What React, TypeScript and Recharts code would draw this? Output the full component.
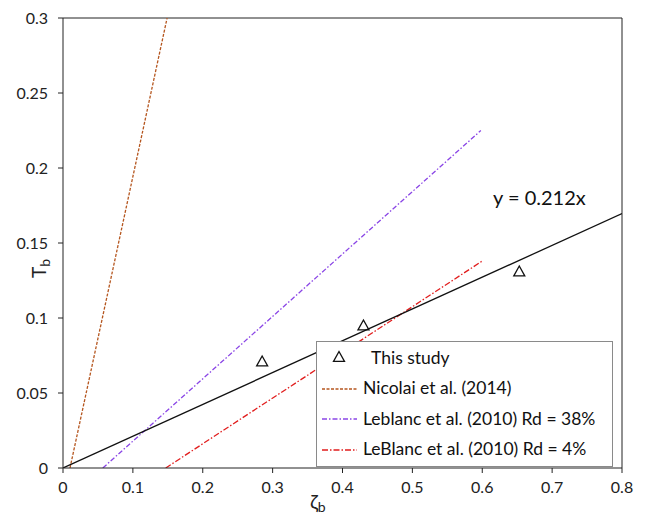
import {
  ComposedChart,
  Line,
  Scatter,
  XAxis,
  YAxis,
  ReferenceLine
} from "recharts";

// measured points
const studyZeta = [0.285, 0.43, 0.653];
const studyTb = [0.071, 0.095, 0.131];

// fitted line y = 0.212x
const fitZeta = [0, 0.8];
const fitTb = [0, 0.1696];

// literature curves
const nicolaiZeta = [0.01, 0.149];
const nicolaiTb = [0, 0.3];
const leblanc38Zeta = [0.057, 0.598];
const leblanc38Tb = [0, 0.225];
const leblanc4Zeta = [0.147, 0.6];
const leblanc4Tb = [0, 0.138];

const xTicks = [0, 0.1, 0.2, 0.3, 0.4, 0.5, 0.6, 0.7, 0.8];
const yTicks = [0, 0.05, 0.1, 0.15, 0.2, 0.25, 0.3];

const legendLabels = [
  "This study",
  "Nicolai et al. (2014)",
  "Leblanc et al. (2010) Rd = 38%",
  "LeBlanc et al. (2010) Rd = 4%"
];

const toPoints = (xs: number[], ys: number[]) => xs.map((x, i) => ({ x, y: ys[i] }));

const FONT = "Lato, 'Open Sans', sans-serif";

const Triangle = (props: any) => {
  const { cx, cy } = props;
  if (cx == null || cy == null) return null;
  const s = 5.5;
  return (
    <polygon
      points={`${cx},${cy - s} ${cx - s},${cy + s * 0.8} ${cx + s},${cy + s * 0.8}`}
      fill='none'
      stroke='#111'
      strokeWidth={1.3}
    />
  );
};

const legendStyles = [
  null,
  { stroke: "#b5561f", dash: "3 1.5" },
  { stroke: "#8a45e6", dash: "5 2 1.5 2" },
  { stroke: "#e11d1d", dash: "6 2 1.5 2" }
];

const LegendBox = () => (
  <div
    style={{
      position: "absolute",
      left: 316,
      top: 341,
      width: 297,
      height: 126,
      border: "1.5px solid #8a8a8a",
      background: "#fff",
      fontFamily: FONT,
      fontSize: 17.5,
      color: "#111",
      boxSizing: "border-box"
    }}
  >
    {legendLabels.map((label, i) => (
      <div key={label} style={{ display: "flex", alignItems: "center", height: 30.5 }}>
        <svg width={44} height={20} style={{ flexShrink: 0 }}>
          {i === 0 ? (
            <Triangle cx={22} cy={10} />
          ) : (
            <line
              x1={5}
              y1={11}
              x2={40}
              y2={11}
              stroke={legendStyles[i]!.stroke}
              strokeWidth={1.3}
              strokeDasharray={legendStyles[i]!.dash}
            />
          )}
        </svg>
        <span style={{ marginLeft: i === 0 ? 10 : 2 }}>{label}</span>
      </div>
    ))}
  </div>
);

const App = () => {
  return (
    <div style={{ position: "absolute", left: 0, top: 0, width: 646, height: 517, background: "#fff" }}>
      <ComposedChart width={646} height={517} margin={{ top: 18, right: 24, bottom: 0, left: 0 }}>
        <XAxis
          type='number'
          dataKey='x'
          domain={[0, 0.8]}
          ticks={xTicks}
          allowDataOverflow
          height={49}
          stroke='#222'
          tickSize={5}
          tickMargin={9}
          tick={{ fontSize: 16, fill: "#222", fontFamily: FONT }}
          label={{
            content: () => (
              <text x={310} y={509} fontFamily={FONT} fontSize={20} fill='#222'>
                ζ
                <tspan fontSize={14} dy={3}>
                  b
                </tspan>
              </text>
            )
          }}
        />
        <YAxis
          type='number'
          dataKey='y'
          domain={[0, 0.3]}
          ticks={yTicks}
          allowDataOverflow
          width={63}
          stroke='#222'
          tickSize={5}
          tickMargin={10}
          tick={{ fontSize: 16, fill: "#222", fontFamily: FONT }}
          label={{
            content: () => (
              <text
                x={46}
                y={278}
                fontFamily={FONT}
                fontSize={19}
                fill='#222'
                transform='rotate(-90 46 278)'
              >
                T
                <tspan fontSize={14} dy={4}>
                  b
                </tspan>
              </text>
            )
          }}
        />
        <ReferenceLine y={0.3} stroke='#222' strokeWidth={1} />
        <ReferenceLine x={0.8} stroke='#222' strokeWidth={1} />

        <Line
          data={toPoints(nicolaiZeta, nicolaiTb)}
          dataKey='y'
          type='linear'
          stroke='#b5561f'
          strokeWidth={1.3}
          strokeDasharray='3 1.5'
          dot={false}
          isAnimationActive={false}
        />
        <Line
          data={toPoints(leblanc38Zeta, leblanc38Tb)}
          dataKey='y'
          type='linear'
          stroke='#8a45e6'
          strokeWidth={1.3}
          strokeDasharray='5 2 1.5 2'
          dot={false}
          isAnimationActive={false}
        />
        <Line
          data={toPoints(leblanc4Zeta, leblanc4Tb)}
          dataKey='y'
          type='linear'
          stroke='#e11d1d'
          strokeWidth={1.3}
          strokeDasharray='6 2 1.5 2'
          dot={false}
          isAnimationActive={false}
        />
        <Line
          data={toPoints(fitZeta, fitTb)}
          dataKey='y'
          type='linear'
          stroke='#111'
          strokeWidth={1.3}
          dot={false}
          isAnimationActive={false}
          label={(p: any) =>
            p.index === 1 ? (
              <text key='fit' x={493} y={205} fontFamily={FONT} fontSize={20} fill='#111'>
                y = 0.212x
              </text>
            ) : null
          }
        />
        <Scatter
          data={toPoints(studyZeta, studyTb)}
          dataKey='y'
          shape={Triangle}
          isAnimationActive={false}
        />
      </ComposedChart>
      <LegendBox />
    </div>
  );
};

export default App;
